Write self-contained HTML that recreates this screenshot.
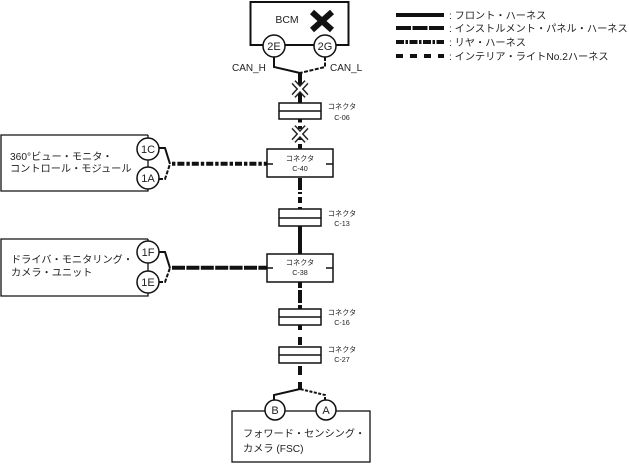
<!DOCTYPE html>
<html><head><meta charset="utf-8"><style>
html,body{margin:0;padding:0;background:#fff}
svg{display:block}
text{font-family:"Liberation Sans","Noto Sans CJK JP",sans-serif;fill:#222}
.c{font-size:7.2px;text-anchor:middle}
.l{font-size:10.2px}
.p{font-size:11px;text-anchor:middle}
.b{fill:#fff;stroke:#111;stroke-width:1.5}
.n{fill:none;stroke:#111}
</style></head><body>
<svg width="629" height="464" viewBox="0 0 629 464" xmlns="http://www.w3.org/2000/svg">
<!-- legend -->
<g class="n">
<path d="M396 15H444" stroke-width="4"/>
<path d="M396 28H444" stroke-width="4" stroke-dasharray="15 1.5"/>
<path d="M396 42H444" stroke-width="4" stroke-dasharray="8 1.5 2.5 1.5"/>
<path d="M396 56H444" stroke-width="4" stroke-dasharray="7 7"/>
</g>
<text class="l" x="449" y="19">: フロント・ハーネス</text>
<text class="l" x="449" y="32">: インストルメント・パネル・ハーネス</text>
<text class="l" x="449" y="46">: リヤ・ハーネス</text>
<text class="l" x="449" y="60">: インテリア・ライトNo.2ハーネス</text>

<!-- vertical harness -->
<g class="n" stroke-width="4">
<path d="M300 73V103"/>
<path d="M300 119V122.5M300 126V129M300 137V140M300 144V149"/>
<path d="M300 178V190M300 192V194M300 197V203M300 207V209"/>
<path d="M300 226V254"/>
<path d="M300 282V288M300 290V303M300 305V309"/>
<path d="M300 325V330M300 337V345"/>
<path d="M300 366V375M300 382V390"/>
<path d="M172 163.8H267" stroke-dasharray="3.4 2 7 2"/>
<path d="M172 267.8H267" stroke-dasharray="13 1.4"/>
</g>

<!-- BCM -->
<rect x="250.5" y="2" width="98" height="43" fill="#fff" stroke="#111" stroke-width="2"/>
<text x="287" y="23" font-size="10.5" text-anchor="middle">BCM</text>
<path d="M312 12L332 30M332 12L312 30" stroke="#111" stroke-width="6" fill="none"/>
<g class="n" stroke-width="2">
<path d="M274 57V67L300 73"/>
<path d="M325 57V67L300 73" stroke-dasharray="4 1.5"/>
</g>
<circle cx="274" cy="46" r="11" class="b"/><circle cx="325" cy="46" r="11" class="b"/>
<text class="p" x="274" y="50">2E</text><text class="p" x="325" y="50">2G</text>
<text x="232" y="71" font-size="10">CAN_H</text>
<text x="330" y="71" font-size="10">CAN_L</text>

<!-- X marks -->
<g fill="none">
<path d="M293.5 82L306.5 96M306.5 82L293.5 96" stroke="#222" stroke-width="5.5"/>
<path d="M293.5 82L306.5 96M306.5 82L293.5 96" stroke="#fff" stroke-width="2.6"/>
<path d="M293.5 127L306.5 141M306.5 127L293.5 141" stroke="#222" stroke-width="5.5"/>
<path d="M293.5 127L306.5 141M306.5 127L293.5 141" stroke="#fff" stroke-width="2.6"/>
</g>

<!-- split connectors -->
<g fill="#fff" stroke="#111" stroke-width="1.5">
<rect x="279" y="103" width="42" height="16"/><path d="M279 111H321"/>
<rect x="279" y="209" width="42" height="17"/><path d="M279 218H321"/>
<rect x="279" y="309" width="42" height="16"/><path d="M279 317H321"/>
<rect x="279" y="347" width="42" height="16"/><path d="M279 355H321"/>
</g>
<text class="c" x="342" y="109">コネクタ</text><text class="c" x="342" y="120">C-06</text>
<text class="c" x="342" y="216">コネクタ</text><text class="c" x="342" y="226">C-13</text>
<text class="c" x="342" y="315">コネクタ</text><text class="c" x="342" y="325">C-16</text>
<text class="c" x="342" y="352">コネクタ</text><text class="c" x="342" y="362">C-27</text>

<!-- boxed connectors -->
<g fill="#fff" stroke="#111" stroke-width="1.5">
<rect x="267" y="149" width="66" height="28"/><path d="M267 164H273M326 164H333"/>
<rect x="267" y="254" width="66" height="28"/><path d="M267 268H273M326 268H333"/>
</g>
<text class="c" x="300" y="161">コネクタ</text><text class="c" x="300" y="171">C-40</text>
<text class="c" x="300" y="265">コネクタ</text><text class="c" x="300" y="275">C-38</text>

<!-- left modules -->
<g fill="#fff" stroke="#111" stroke-width="1.3">
<path d="M148 135H1V191H148V135"/>
<path d="M148 239H1V296H148V239"/>
</g>
<text class="l" x="10" y="160">360°ビュー・モニタ・</text>
<text class="l" x="10" y="172">コントロール・モジュール</text>
<text class="l" x="11" y="263">ドライバ・モニタリング・</text>
<text class="l" x="11" y="276">カメラ・ユニット</text>
<g class="n" stroke-width="2">
<path d="M159 148H165L170 164"/>
<path d="M159 179H165L170 164" stroke-dasharray="4 1.5"/>
<path d="M159 252H165L170 268"/>
<path d="M159 282H165L170 268" stroke-dasharray="4 1.5"/>
</g>
<g class="b">
<circle cx="148" cy="149" r="11"/><circle cx="148" cy="178" r="11"/>
<circle cx="148" cy="252" r="11"/><circle cx="148" cy="282" r="11"/>
</g>
<text class="p" x="148" y="153">1C</text><text class="p" x="148" y="182">1A</text>
<text class="p" x="148" y="256">1F</text><text class="p" x="148" y="286">1E</text>

<!-- bottom module -->
<rect x="232" y="411" width="138" height="51" fill="#fff" stroke="#111" stroke-width="1.3"/>
<g class="n" stroke-width="2">
<path d="M274 400V395L300 389"/>
<path d="M325 400V395L300 389" stroke-dasharray="3 1.5"/>
</g>
<circle cx="275" cy="410" r="10" class="b"/><circle cx="326" cy="410" r="10" class="b"/>
<text class="p" x="275" y="414">B</text><text class="p" x="326" y="414">A</text>
<text class="l" x="243" y="437">フォワード・センシング・</text>
<text class="l" x="243" y="452">カメラ (FSC)</text>
</svg>
</body></html>
